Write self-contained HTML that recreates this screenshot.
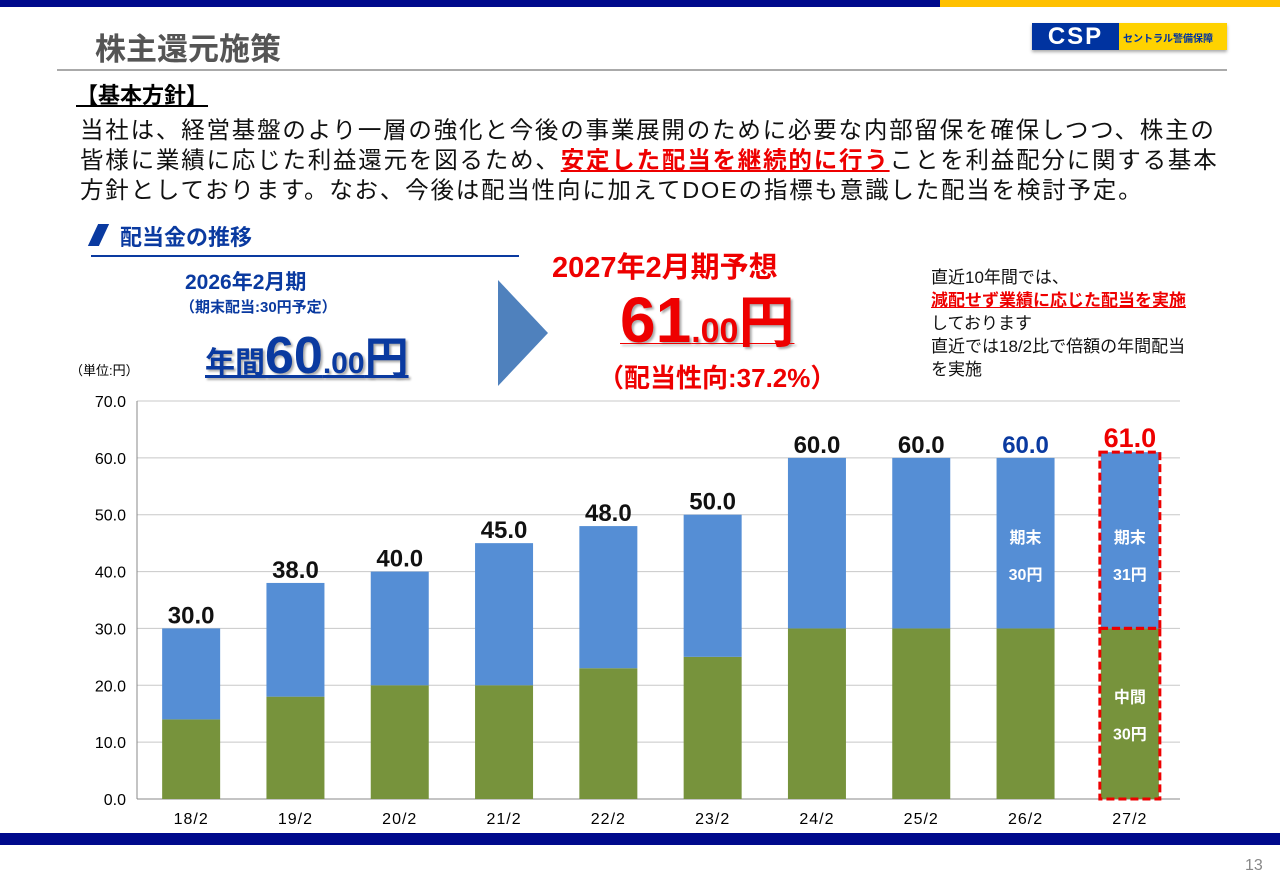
<!DOCTYPE html>
<html><head><meta charset="utf-8"><style>
body{margin:0;width:1280px;height:886px;position:relative;background:#fff;overflow:hidden;font-family:"Liberation Sans","Noto Sans CJK JP",sans-serif}
.a{position:absolute;white-space:nowrap}
</style></head><body>
<div class="a" style="left:0;top:0;width:940px;height:7px;background:#000a8c"></div>
<div class="a" style="left:940px;top:0;width:340px;height:7px;background:#ffc000"></div>
<div class="a" style="left:95px;top:24px;font-size:31px;font-weight:bold;color:#555">株主還元施策</div>
<div class="a" style="left:1032px;top:23px;width:195px;height:27px;background:#ffd200;box-shadow:0 2px 3px #aaa">
<div style="position:absolute;left:0;top:0;width:87px;height:27px;background:#0033a0;color:#fff;font-weight:bold;font-size:24px;line-height:27px;text-align:center;letter-spacing:2px">CSP</div>
<div style="position:absolute;left:91px;top:7px;font-size:10px;font-weight:bold;color:#0033a0">セントラル警備保障</div></div>
<div class="a" style="left:57px;top:69px;width:1170px;height:2px;background:#aaa"></div>
<div class="a" style="left:76px;top:78px;font-size:22px;font-weight:bold;text-decoration:underline">【基本方針】</div>
<div class="a" style="left:80px;top:115px;font-size:23.5px;letter-spacing:1.8px;line-height:30px;color:#111">当社は、経営基盤のより一層の強化と今後の事業展開のために必要な内部留保を確保しつつ、株主の<br>皆様に業績に応じた利益還元を図るため、<span style="color:#e00;font-weight:bold;text-decoration:underline">安定した配当を継続的に行う</span>ことを利益配分に関する基本<br>方針としております。なお、今後は配当性向に加えてDOEの指標も意識した配当を検討予定。</div>
<div class="a" style="left:93px;top:224px;width:11px;height:22px;background:#0a3aa0;transform:skewX(-25deg)"></div>
<div class="a" style="left:120px;top:220px;font-size:22px;font-weight:bold;color:#0a3aa0">配当金の推移</div>
<div class="a" style="left:91px;top:255px;width:428px;height:1.5px;background:#0a3aa0"></div>
<div class="a" style="left:185px;top:266px;font-size:21px;font-weight:bold;color:#0a3aa0">2026年2月期</div>
<div class="a" style="left:180px;top:296px;font-size:15px;font-weight:bold;color:#0a3aa0">（期末配当:30円予定）</div>
<div class="a" style="left:205px;top:322px;font-size:30px;font-weight:bold;color:#0a3aa0;text-decoration:underline;text-shadow:2px 2px 2px #aaa">年間<span style="font-size:52px">60</span><span style="font-size:30px">.00</span><span style="font-size:44px">円</span></div>
<svg class="a" style="left:498px;top:280px" width="50" height="106"><polygon points="0,0 50,53 0,106" fill="#4f81bd"/></svg>
<div class="a" style="left:552px;top:244px;font-size:29px;font-weight:bold;color:#e00">2027年2月期予想</div>
<div class="a" style="left:620px;top:278px;font-weight:bold;color:#e00;text-decoration:underline;text-shadow:2px 2px 2px #aaa"><span style="font-size:64px">61</span><span style="font-size:34px">.00</span><span style="font-size:56px">円</span></div>
<div class="a" style="left:598px;top:358px;font-size:26px;font-weight:bold;color:#e00">（配当性向:37.2%）</div>
<div class="a" style="left:931px;top:266px;font-size:17px;line-height:23px;color:#111">直近10年間では、<br><span style="color:#e00;font-weight:bold;text-decoration:underline">減配せず業績に応じた配当を実施</span><br>しております<br>直近では18/2比で倍額の年間配当<br>を実施</div>
<div class="a" style="left:70px;top:360px;font-size:13px">（単位:円）</div>
<svg id="chart" class="a" style="left:0;top:380px" width="1280" height="450"></svg>
<div class="a" style="left:0;top:833px;width:1280px;height:12px;background:#000a8c"></div>
<div class="a" style="left:1245px;top:857px;font-size:16px;color:#888">13</div>
<script>
const categories=["18/2","19/2","20/2","21/2","22/2","23/2","24/2","25/2","26/2","27/2"];
const interim=[14,18,20,20,23,25,30,30,30,30];
const totals=[30,38,40,45,48,50,60,60,60,61];
const totalLabels=["30.0","38.0","40.0","45.0","48.0","50.0","60.0","60.0","60.0","61.0"];
const ticks=[0,10,20,30,40,50,60,70];
const svg=document.getElementById('chart');const NS='http://www.w3.org/2000/svg';
const oy=380,x0=137,x1=1180,yTop=401,yBot=799;
const y=v=>yBot-(v/70)*(yBot-yTop)-oy;
const step=(x1-x0)/categories.length;
const xc=i=>x0+2+step*(i+0.5);
function mk(t,a){const e=document.createElementNS(NS,t);for(const k in a)e.setAttribute(k,a[k]);svg.appendChild(e);return e;}
ticks.forEach(t=>{
const l=mk('line',{x1:x0,x2:x1,y1:y(t),y2:y(t),stroke:t?'#c8c8c8':'#888','stroke-width':1});


const tx=mk('text',{x:x0-11,y:y(t)+6,'text-anchor':'end','font-size':16,'font-family':'Liberation Sans'});tx.textContent=t.toFixed(1);


});
const ax=mk('line',{x1:x0,x2:x0,y1:y(70),y2:y(0),stroke:'#888'});


const bw=58;
categories.forEach((c,i)=>{
const cx=xc(i);
const g=mk('rect',{x:cx-bw/2,y:y(interim[i]),width:bw,height:y(0)-y(interim[i]),fill:'#77933c'});


const b=mk('rect',{x:cx-bw/2,y:y(totals[i]),width:bw,height:y(interim[i])-y(totals[i]),fill:'#558ed5'});


const xl=mk('text',{x:cx,y:y(0)+25,'text-anchor':'middle','font-size':16,'letter-spacing':1,'font-family':'Liberation Sans'});xl.textContent=c;


const col=i==9?'#e00':(i==8?'#0a3aa0':'#111');
const vl=mk('text',{x:cx,y:y(totals[i])-5,'text-anchor':'middle','font-size':i==9?27:24,'font-weight':'bold',fill:col,'font-family':'Liberation Sans'});vl.textContent=totalLabels[i];


});
[[interim[9],totals[9]],[0,interim[9]]].forEach(([a,b])=>{
const r=mk('rect',{x:xc(9)-bw/2-1,y:y(b),width:bw+2,height:y(a)-y(b),fill:'none',stroke:'#e00','stroke-width':3,'stroke-dasharray':'8,4'});


});
function lab(i,v,t){const e=mk('text',{x:xc(i),y:y(v),'text-anchor':'middle','font-size':16,'font-weight':'bold',fill:'#fff','font-family':'Liberation Sans, Noto Sans CJK JP, sans-serif'});e.textContent=t;

}
lab(8,45,'期末');lab(8,38.5,'30円');lab(9,45,'期末');lab(9,38.5,'31円');lab(9,17,'中間');lab(9,10.5,'30円');
</script>
</body></html>
